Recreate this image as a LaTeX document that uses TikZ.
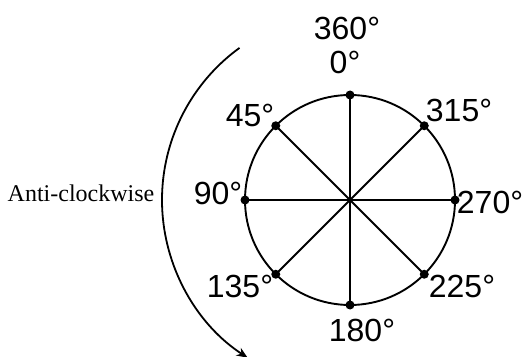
\documentclass[tikz,border=0pt]{standalone}
\usepackage{fontspec}
\setmainfont{Liberation Sans}
\newfontfamily\serifx{Liberation Serif}
\usetikzlibrary{arrows.meta,calc}
\begin{document}
\begin{tikzpicture}[x=1pt,y=1pt,
  deg/.style={font=\fontsize{32}{32}\selectfont, inner sep=0pt},
  dotx/.style={circle, fill=black, inner sep=0pt, minimum size=9pt},
  ln/.style={line width=1.9pt}]
\useasboundingbox (0,0) rectangle (526,356);
\coordinate (O) at (350,156);
\draw[ln] (O) circle[radius=105];
\foreach \a/\n in {90/p0,135/p45,180/p90,225/p135,270/p180,315/p225,0/p270,45/p315}{
  \coordinate (\n) at ($(O)+(\a:105)$);
}
\draw[ln] (p0) -- (p180);
\draw[ln] (p45) -- (p225);
\draw[ln] (p90) -- (p270);
\draw[ln] (p135) -- (p315);
\foreach \n in {p0,p45,p90,p135,p180,p225,p270,p315}{
  \node[dotx] (d\n) at (\n) {};
}
\node[deg] (l360) at (347,328) {360°};
\node[deg] (l0) at (345,294) {0°};
\node[deg] (l45) at (250,241) {45°};
\node[deg] (l315) at (459,246) {315°};
\node[deg] (l90) at (218,163) {90°};
\node[deg] (l270) at (490,154) {270°};
\node[deg] (l135) at (240,70) {135°};
\node[deg] (l225) at (462,70) {225°};
\node[deg] (l180) at (362,26) {180°};
\node[font=\serifx\fontsize{24}{24}\selectfont, inner sep=0pt] (ac) at (81,163) {Anti-clockwise};
\coordinate (as) at ($(O)+(126:188)$);
\draw[line width=1.8pt, -{Stealth[length=11pt,width=9pt]}] (as) arc[start angle=126, end angle=237, radius=188];
\end{tikzpicture}
\end{document}
